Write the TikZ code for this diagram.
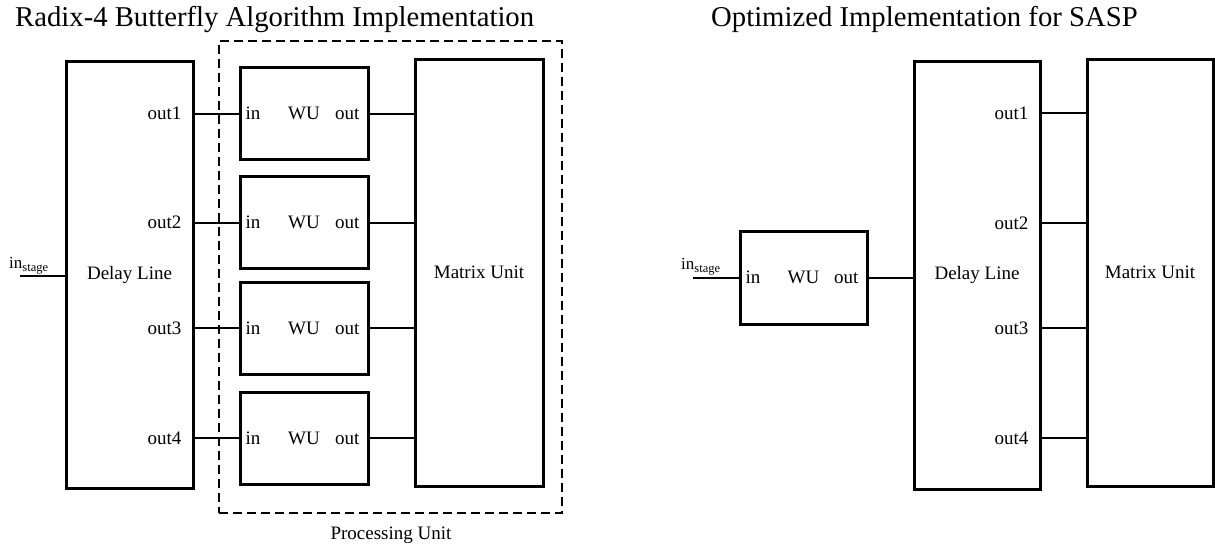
\documentclass[tikz,border=0pt]{standalone}
\usepackage{fontspec}
\setmainfont{Liberation Serif}
\begin{document}
\begin{tikzpicture}[x=1pt,y=-1pt,
  box/.style={draw, line width=3pt, rectangle, inner sep=0pt, font=\fontsize{19}{19}\selectfont},
  wire/.style={line width=2pt},
  lbl/.style={inner sep=0pt, text height=12.5pt, text depth=0pt, font=\fontsize{19}{19}\selectfont},
  ttl/.style={inner sep=0pt, anchor=base west, font=\fontsize{28.7}{30}\selectfont},
  inlbl/.style={inner sep=0pt, anchor=base west, font=\fontsize{17}{17}\selectfont},
  pubox/.style={draw, line width=1.8pt, dash pattern=on 9pt off 5pt, inner sep=0pt}]
\useasboundingbox (0,0) rectangle (1215,546);
\newcommand{\instage}{in\raisebox{-3pt}{\fontsize{12.5}{12.5}\selectfont stage}}

% titles
\node[ttl] (t1) at (15,26) {Radix-4 Butterfly Algorithm Implementation};
\node[ttl] (t2) at (711,26) {Optimized Implementation for SASP};

% ---------- left ----------
\node[box, minimum width=127pt, minimum height=427pt] (dl) at (129.5,274.5) {Delay Line};
\node[pubox, minimum width=343pt, minimum height=472pt] (pu) at (390.5,277) {};
\node[lbl, anchor=base, text height=, text depth=] (pul) at (391,539) {Processing Unit};
\node[box, minimum width=128pt, minimum height=427pt] (mu) at (479,272.5) {Matrix Unit};
\foreach \i/\y in {1/113.5,2/222.5,3/328,4/438}{
  \node[box, lbl, draw, line width=3pt, minimum width=128pt, minimum height=92pt] (wu\i) at (304,\y) {WU};
  \node[lbl, anchor=west, xshift=7pt] (wi\i) at (wu\i.west) {in};
  \node[lbl, anchor=east, xshift=-10pt] (wo\i) at (wu\i.east) {out};
  \node[lbl, anchor=east, xshift=-13pt] (o\i) at (wu\i.west -| dl.east) {out\i};
  \draw[wire] (wu\i.west -| dl.east) -- (wu\i.west);
  \draw[wire] (wu\i.east) -- (wu\i.east -| mu.west);
}
\coordinate (inL) at (20,276);
\draw[wire] (inL) -- (inL -| dl.west);
\node[inlbl] (insL) at (9,268) {\instage};

% ---------- right ----------
\node[box, lbl, draw, line width=3pt, minimum width=127pt, minimum height=93pt] (wuR) at (803.5,277.5) {WU};
\node[lbl, anchor=west, xshift=7pt] (wiR) at (wuR.west) {in};
\node[lbl, anchor=east, xshift=-10pt] (woR) at (wuR.east) {out};
\coordinate (inR) at (693,277.5);
\draw[wire] (inR) -- (inR -| wuR.west);
\node[inlbl] (insR) at (681,269) {\instage};
\node[box, minimum width=126pt, minimum height=428pt] (dlR) at (977,275) {Delay Line};
\node[box, minimum width=126pt, minimum height=427pt] (muR) at (1150,272.5) {Matrix Unit};
\draw[wire] (wuR.east) -- (wuR.east -| dlR.west);
\foreach \i/\y in {1/113,2/223,3/328,4/438}{
  \coordinate (lv\i) at (1060,\y);
  \node[lbl, anchor=east, xshift=-13pt] (oR\i) at (lv\i -| dlR.east) {out\i};
  \draw[wire] (lv\i -| dlR.east) -- (lv\i -| muR.west);
}
\end{tikzpicture}
\end{document}
